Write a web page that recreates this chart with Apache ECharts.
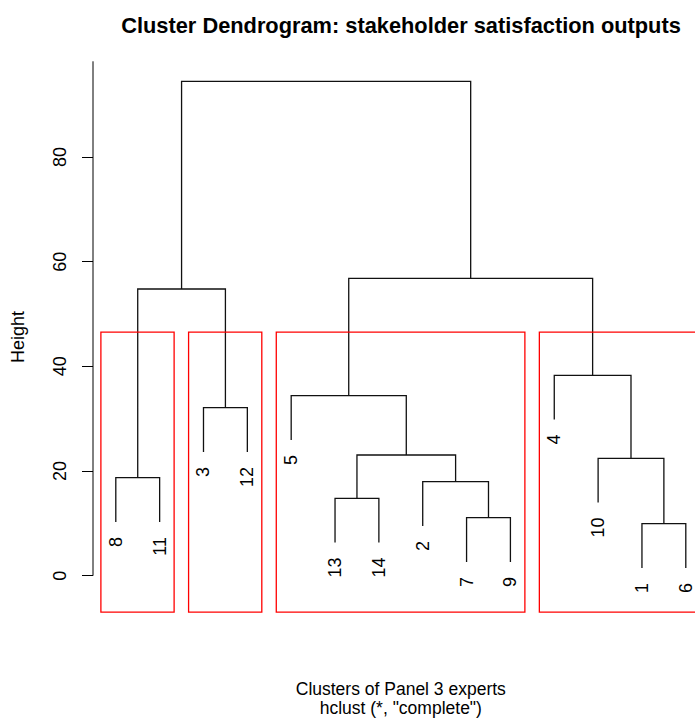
<!DOCTYPE html>
<html><head><meta charset="utf-8">
<script src="https://cdn.jsdelivr.net/npm/echarts@6/dist/echarts.min.js"></script>
<style>html,body{margin:0;padding:0;background:#fff}#chart{width:695px;height:721px}</style>
</head><body><div id="chart"></div>
<script>
// ---- data ----
const leafOrder = ['8','11','3','12','5','13','14','2','7','9','4','10','1','6'];
// merge table (R hclust style): negative = observation, positive = earlier merge (1-based)
const mergeLeft   = [-8,  -3,  -13, -7, -2, 3,  -5, -1, -10, -4, 1,  7,  11];
const mergeRight  = [-11, -12, -14, -9, 4,  5,  6,  -6, 8,   9,  2,  10, 12];
const mergeHeight = [18.72, 32.1, 14.79, 11.08, 17.96, 23.06, 34.39, 9.94, 22.43, 38.29, 54.78, 56.82, 94.46];
const clusterSizes = [2, 2, 6, 4];
const yTicks = [0, 20, 40, 60, 80];
const titleText = 'Cluster Dendrogram: stakeholder satisfaction outputs';
const yName = 'Height';
const subLines = ['Clusters of Panel 3 experts', 'hclust (*, "complete")'];

// ---- layout / style ----
const FONT = '"Liberation Sans", Arial, sans-serif';
const hang = 0.1;
const xMin = 0.48, xMax = 14.52;
const yMin = -7.07, yMax = 98.28;

// ---- build tree geometry from the data ----
const hRange = Math.max(...mergeHeight) - Math.min(...mergeHeight);
const leafPos = {};
leafOrder.forEach((l, i) => { leafPos[l] = i + 1; });
const nodeX = [];
const segData = [];
const leafData = [];
function child(ref, parentH) {
  if (ref < 0) {
    const lab = String(-ref);
    const y = parentH - hang * hRange;
    leafData.push([leafPos[lab], y, lab]);
    return { x: leafPos[lab], y: y };
  }
  return { x: nodeX[ref - 1], y: mergeHeight[ref - 1] };
}
mergeHeight.forEach((h, i) => {
  const a = child(mergeLeft[i], h);
  const b = child(mergeRight[i], h);
  nodeX[i] = (a.x + b.x) / 2;
  segData.push([a.x, a.y, h, b.x, b.y]);
});
// rect.hclust boxes (k = number of clusters)
const k = clusterSizes.length;
const sortedH = mergeHeight.slice().sort((p, q) => q - p);
const boxTop = (sortedH[k - 2] + sortedH[k - 1]) / 2;
const boxData = [];
let cum = 0;
clusterSizes.forEach(s => {
  boxData.push([cum + 0.66, cum + s + 0.33, boxTop]);
  cum += s;
});

const chart = echarts.init(document.getElementById('chart'), null, { renderer: 'svg' });
chart.setOption({
  backgroundColor: '#fff',
  animation: false,
  title: {
    text: titleText,
    left: 396, top: 9, textAlign: 'center',
    textStyle: { fontFamily: FONT, fontSize: 21.8, fontWeight: 'bold', color: '#000' }
  },
  grid: { left: 93, right: -13.6, top: 61.3, bottom: 108.3, containLabel: false, outerBoundsMode: 'none' },
  xAxis: { type: 'value', min: xMin, max: xMax, show: false },
  yAxis: {
    type: 'value', min: yMin, max: yMax, position: 'left',
    name: yName, nameLocation: 'middle', nameRotate: 90, nameGap: 66,
    nameTextStyle: { fontFamily: FONT, fontSize: 18, color: '#000' },
    axisLine: { show: false },
    axisTick: { show: true, length: 11, customValues: yTicks, lineStyle: { color: '#000', width: 1 } },
    axisLabel: { show: true, customValues: yTicks, rotate: 90, margin: 24, fontFamily: FONT, fontSize: 18, color: '#000' },
    splitLine: { show: false }
  },
  graphic: subLines.map((t, i) => ({
    type: 'text', x: 400.8, y: 688.5 + i * 19.5,
    style: { text: t, textAlign: 'center', textVerticalAlign: 'middle', fontFamily: FONT, fontSize: 17.5, fill: '#000' }
  })),
  series: [
    { // y axis line, from first tick to the top of the plot region
      type: 'custom', coordinateSystem: 'cartesian2d', silent: true, clip: false,
      data: [[xMin, yTicks[0], yMax]],
      renderItem: (params, api) => {
        const p0 = api.coord([api.value(0), api.value(1)]);
        const p1 = api.coord([api.value(0), api.value(2)]);
        return { type: 'line', shape: { x1: p0[0], y1: p0[1], x2: p1[0], y2: p1[1] }, style: { stroke: '#000', lineWidth: 1 } };
      }
    },
    { // dendrogram branches
      type: 'custom', coordinateSystem: 'cartesian2d', silent: true, clip: false,
      data: segData,
      renderItem: (params, api) => {
        const pts = [
          api.coord([api.value(0), api.value(1)]),
          api.coord([api.value(0), api.value(2)]),
          api.coord([api.value(3), api.value(2)]),
          api.coord([api.value(3), api.value(4)])
        ];
        return { type: 'polyline', shape: { points: pts }, style: { stroke: '#111', lineWidth: 1.3, fill: null } };
      }
    },
    { // cluster rectangles
      type: 'custom', coordinateSystem: 'cartesian2d', silent: true, clip: false,
      data: boxData,
      renderItem: (params, api) => {
        const p0 = api.coord([api.value(0), api.value(2)]);
        const p1 = api.coord([api.value(1), yMin]);
        return { type: 'rect', shape: { x: p0[0], y: p0[1], width: p1[0] - p0[0], height: p1[1] - p0[1] - 0.5 },
                 style: { stroke: '#ff0000', lineWidth: 1.3, fill: null } };
      }
    },
    { // leaf labels
      type: 'custom', coordinateSystem: 'cartesian2d', silent: true, clip: false,
      data: leafData,
      renderItem: (params, api) => {
        const p = api.coord([api.value(0), api.value(1)]);
        return { type: 'text', x: p[0], y: p[1] + 15, rotation: Math.PI / 2,
                 style: { text: leafData[params.dataIndex][2], textAlign: 'right', textVerticalAlign: 'middle',
                          fontFamily: FONT, fontSize: 18, fill: '#000' } };
      }
    }
  ]
});
</script>
</body></html>
